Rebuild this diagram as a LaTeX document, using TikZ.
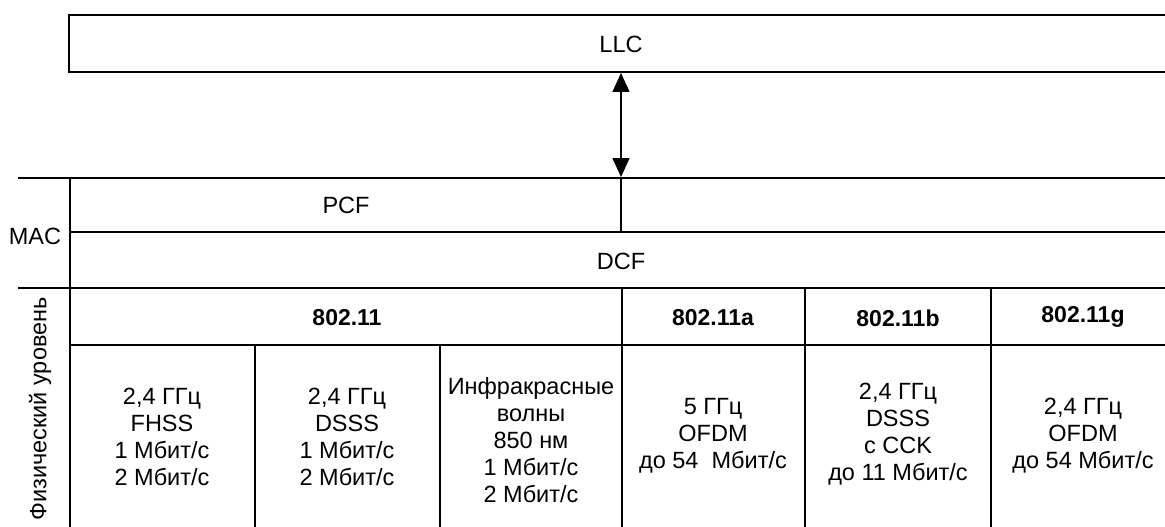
\documentclass[tikz,border=0pt]{standalone}
\usepackage{fontspec}
\setmainfont{Liberation Sans}
\usetikzlibrary{arrows.meta}
\begin{document}
\begin{tikzpicture}[x=1pt,y=-1pt,
  hline/.style={line width=2.4pt},
  vline/.style={line width=1.6pt},
  mainv/.style={line width=2.3pt},
  lbl/.style={font=\fontsize{23.5}{27}\selectfont, inner sep=0pt},
  hdr/.style={font=\fontsize{23}{27}\selectfont\bfseries, inner sep=0pt},
  cell/.style={font=\fontsize{23.5}{27}\selectfont, align=center, inner sep=0pt},
  biarrow/.style={line width=1.5pt, {Triangle[width=17pt,length=19pt]}-{Triangle[width=17pt,length=19pt]}}]
\useasboundingbox (0,0) rectangle (1165,527);
\clip (0,0) rectangle (1165,527);
\fill[white] (0,0) rectangle (1165,527);
% LLC box
\draw[hline] (69,15) -- (1190,15);
\draw[hline] (69,72) -- (1190,72);
\draw[mainv] (69,14) -- (69,73);
\node[lbl] (llc) at (621,44) {LLC};
% MAC / PHY frame
\draw[hline] (18,178) -- (1190,178);
\draw[hline] (70,232) -- (1190,232);
\draw[hline] (18,288) -- (1190,288);
\draw[hline] (70,345) -- (1190,345);
\draw[mainv] (70,177) -- (70,540);
% arrow
\coordinate (llcb) at (621,73);
\coordinate (mact) at (621,177);
\coordinate (pcfb) at (621,232);
\draw[biarrow] (llcb) -- (mact);
\draw[vline] (mact) -- (pcfb);
% vertical column lines
\draw[vline] (622,288) -- (622,540);
\draw[vline] (805,288) -- (805,540);
\draw[vline] (991,288) -- (991,540);
\draw[vline] (255,345) -- (255,540);
\draw[vline] (440,345) -- (440,540);
% labels
\node[lbl] (mac) at (35,236) {MAC};
\node[lbl, rotate=90] (phy) at (40,409) {Физический уровень};
\node[lbl] (pcf) at (346,205) {PCF};
\node[lbl] (dcf) at (621,261) {DCF};
\node[hdr] (h0) at (347,318) {802.11};
\node[hdr] (h1) at (713,318) {802.11a};
\node[hdr] (h2) at (898,318) {802.11b};
\node[hdr] (h3) at (1083,317) {802.11g};
\node[cell] (c1) at (162,437) {2,4 ГГц\\FHSS\\1 Мбит/с\\2 Мбит/с};
\node[cell] (c2) at (347,437) {2,4 ГГц\\DSSS\\1 Мбит/с\\2 Мбит/с};
\node[cell] (c3) at (531,440) {Инфракрасные\\волны\\850 нм\\1 Мбит/с\\2 Мбит/с};
\node[cell] (c4) at (713,436) {5 ГГц\\OFDM\\до 54~~Мбит/с};
\node[cell] (c5) at (898,434) {2,4 ГГц\\DSSS\\с CCK\\до 11 Мбит/с};
\node[cell] (c6) at (1083,436) {2,4 ГГц\\OFDM\\до 54 Мбит/с};
\end{tikzpicture}
\end{document}
